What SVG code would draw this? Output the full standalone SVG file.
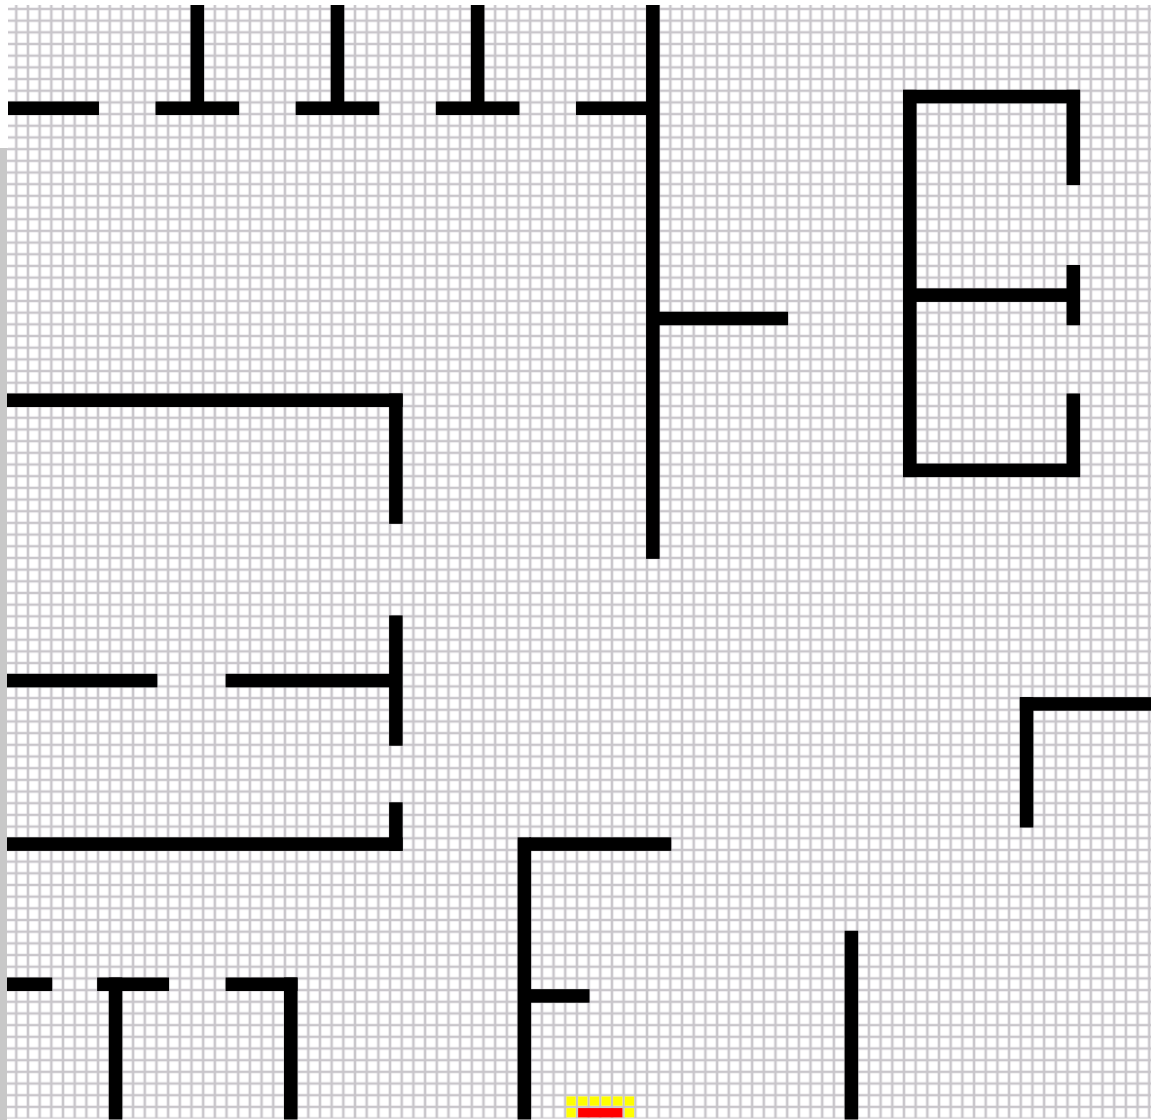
<svg xmlns="http://www.w3.org/2000/svg" width="1151" height="1120" viewBox="0 0 1151 1120">
<defs>
<pattern id="grid" patternUnits="userSpaceOnUse" x="0" y="0" width="1" height="1">
<rect width="1" height="1" fill="#ffffff"/>
<path d="M0 0H1M0 1H1M0 0V1M1 0V1" fill="none" stroke="#c9c6cb" stroke-width="0.22"/>
</pattern>
</defs>
<style>
.w{fill:#000000;stroke:#000000;stroke-width:0.16}
.y{fill:#ffff00}
.r{fill:#ff0000}
</style>
<rect width="1151" height="1120" fill="#ffffff"/>
<g id="plan" transform="translate(4.6,-2.7) scale(11.68)">
<rect id="floor" x="0" y="0" width="100" height="96" fill="url(#grid)"/>
<g id="walls">
<rect class="w" x="0" y="9" width="8" height="1"/>
<rect class="w" x="13" y="9" width="7" height="1"/>
<rect class="w" x="16" y="0" width="1" height="9"/>
<rect class="w" x="25" y="9" width="7" height="1"/>
<rect class="w" x="28" y="0" width="1" height="9"/>
<rect class="w" x="37" y="9" width="7" height="1"/>
<rect class="w" x="40" y="0" width="1" height="9"/>
<rect class="w" x="49" y="9" width="6" height="1"/>
<rect class="w" x="55" y="0" width="1" height="48"/>
<rect class="w" x="56" y="27" width="11" height="1"/>
<rect class="w" x="77" y="8" width="15" height="1"/>
<rect class="w" x="91" y="8" width="1" height="8"/>
<rect class="w" x="77" y="8" width="1" height="33"/>
<rect class="w" x="78" y="25" width="13" height="1"/>
<rect class="w" x="91" y="23" width="1" height="5"/>
<rect class="w" x="91" y="34" width="1" height="7"/>
<rect class="w" x="77" y="40" width="15" height="1"/>
<rect class="w" x="0" y="34" width="34" height="1"/>
<rect class="w" x="33" y="34" width="1" height="11"/>
<rect class="w" x="0" y="58" width="13" height="1"/>
<rect class="w" x="19" y="58" width="14" height="1"/>
<rect class="w" x="33" y="53" width="1" height="11"/>
<rect class="w" x="33" y="69" width="1" height="4"/>
<rect class="w" x="0" y="72" width="34" height="1"/>
<rect class="w" x="0" y="84" width="4" height="1"/>
<rect class="w" x="8" y="84" width="6" height="1"/>
<rect class="w" x="9" y="84" width="1" height="12"/>
<rect class="w" x="19" y="84" width="6" height="1"/>
<rect class="w" x="24" y="84" width="1" height="12"/>
<rect class="w" x="44" y="72" width="1" height="24"/>
<rect class="w" x="45" y="72" width="12" height="1"/>
<rect class="w" x="45" y="85" width="5" height="1"/>
<rect class="w" x="72" y="80" width="1" height="16"/>
<rect class="w" x="87" y="60" width="12" height="1"/>
<rect class="w" x="87" y="60" width="1" height="11"/>
</g>
<g id="marker">
<rect class="y" x="48.1" y="94.1" width="0.8" height="0.8"/>
<rect class="y" x="49.1" y="94.1" width="0.8" height="0.8"/>
<rect class="y" x="50.1" y="94.1" width="0.8" height="0.8"/>
<rect class="y" x="51.1" y="94.1" width="0.8" height="0.8"/>
<rect class="y" x="52.1" y="94.1" width="0.8" height="0.8"/>
<rect class="y" x="53.1" y="94.1" width="0.8" height="0.8"/>
<rect class="y" x="48.1" y="95.1" width="0.8" height="0.8"/>
<rect class="r" x="49.1" y="95.1" width="3.8" height="0.8"/>
<rect class="y" x="53.1" y="95.1" width="0.8" height="0.8"/>
</g>
</g>
<rect id="top-margin" x="0" y="0" width="1151" height="5" fill="#ffffff"/>
<rect id="left-margin" x="0" y="0" width="8" height="148" fill="#ffffff"/>
<rect id="left-bar" x="0" y="148" width="7" height="972" fill="#c8c8c8"/>
</svg>
